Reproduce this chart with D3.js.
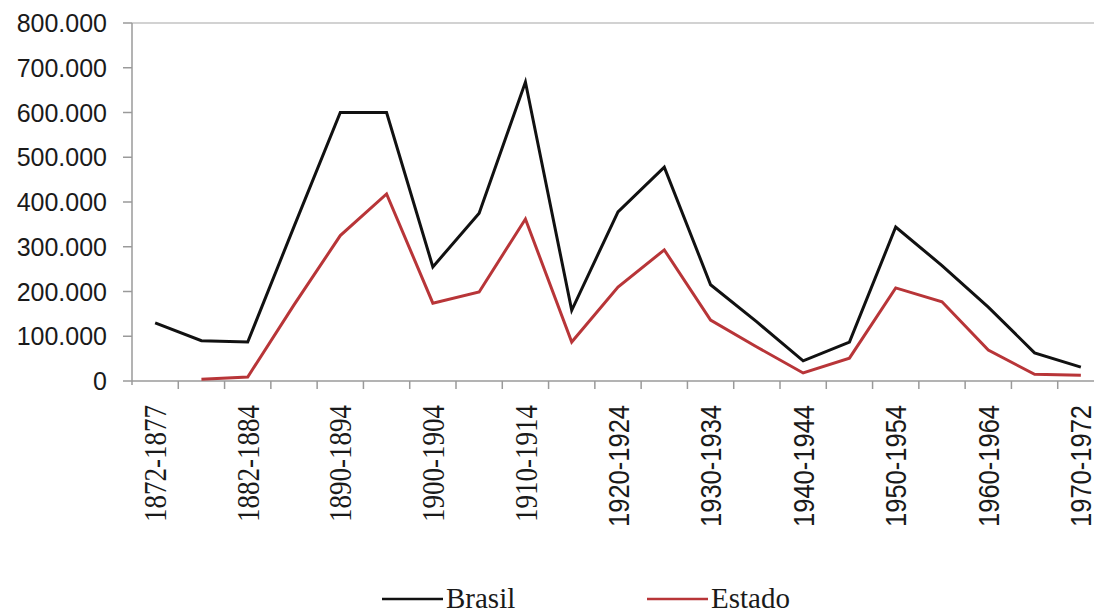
<!DOCTYPE html>
<html>
<head>
<meta charset="utf-8">
<script src="https://cdn.jsdelivr.net/npm/d3@7"></script>
<style>
  body { margin: 0; background: #fff; }
  svg { display: block; }
</style>
</head>
<body>
<div id="chart"></div>
<script>
var categories = ["1872-1877", "1878-1881", "1882-1884", "1885-1889", "1890-1894", "1895-1899",
  "1900-1904", "1905-1909", "1910-1914", "1915-1919", "1920-1924", "1925-1929", "1930-1934",
  "1935-1939", "1940-1944", "1945-1949", "1950-1954", "1955-1959", "1960-1964", "1965-1969", "1970-1972"];
var labelledCategories = ["1872-1877", "1882-1884", "1890-1894", "1900-1904", "1910-1914",
  "1920-1924", "1930-1934", "1940-1944", "1950-1954", "1960-1964", "1970-1972"];
var brasil = [130000, 90000, 87000, 345000, 600000, 600000, 255000, 375000, 668000, 158000, 378000,
  478000, 215000, 132000, 45000, 87000, 344000, 258000, 165000, 63000, 31000];
var estado = [null, 4000, 9000, 170000, 325000, 418000, 174000, 199000, 362000, 87000, 210000,
  293000, 136000, 76000, 18000, 51000, 208000, 177000, 69000, 15000, 13000];
var yTicks = [0, 100000, 200000, 300000, 400000, 500000, 600000, 700000, 800000];
var seriesNames = ["Brasil", "Estado"];

var width = 1094;
var height = 613;
var plotLeft = 132, plotTop = 23, plotBottom = 381;
var colors = { Brasil: "#111111", Estado: "#b83538" };
var serifFont = "'Liberation Serif', 'Times New Roman', serif";
var sansFont = "'Liberation Sans', Arial, sans-serif";

var ptBR = d3.formatLocale({ decimal: ",", thousands: ".", grouping: [3], currency: ["R$", ""] });
var fmt = ptBR.format(",d");

var svg = d3.select("#chart").append("svg")
  .attr("width", width)
  .attr("height", height);

/* Scales */
var x = d3.scaleBand().domain(categories).range([plotLeft, 1104]).padding(0);
var y = d3.scaleLinear().domain([0, 800000]).range([plotBottom, plotTop]);
var cx = (d) => x(d) + x.bandwidth() / 2;

/* Plot border top */
svg.append("line")
  .attr("x1", plotLeft).attr("x2", width)
  .attr("y1", y(800000)).attr("y2", y(800000))
  .style("stroke", "#d2d2d2").style("stroke-width", 2);

/* Y axis */
var yAxis = svg.append("g");
yAxis.append("line")
  .attr("x1", plotLeft).attr("x2", plotLeft)
  .attr("y1", y(800000)).attr("y2", plotBottom + 4)
  .style("stroke", "#9a9a9a").style("stroke-width", 1.5);
yAxis.selectAll(".ytick")
  .data(yTicks)
  .enter()
  .append("line")
  .attr("x1", plotLeft - 9).attr("x2", plotLeft)
  .attr("y1", (d) => y(d)).attr("y2", (d) => y(d))
  .style("stroke", "#9a9a9a").style("stroke-width", 1.5);
yAxis.selectAll(".ylabel")
  .data(yTicks)
  .enter()
  .append("text")
  .attr("x", 107)
  .attr("y", (d) => y(d))
  .attr("dy", "0.36em")
  .attr("text-anchor", "end")
  .style("font-family", sansFont)
  .style("font-size", "25px")
  .style("fill", "#1a1a1a")
  .text((d) => fmt(d));

/* X axis */
var xAxis = svg.append("g");
xAxis.append("line")
  .attr("x1", plotLeft).attr("x2", width)
  .attr("y1", plotBottom).attr("y2", plotBottom)
  .style("stroke", "#9a9a9a").style("stroke-width", 1.5);
xAxis.selectAll(".xtick")
  .data(categories.slice(1))
  .enter()
  .append("line")
  .attr("x1", (d) => x(d)).attr("x2", (d) => x(d))
  .attr("y1", plotBottom).attr("y2", plotBottom + 8)
  .style("stroke", "#9a9a9a").style("stroke-width", 1.5);
xAxis.selectAll(".xlabel")
  .data(labelledCategories)
  .enter()
  .append("text")
  .attr("transform", (d) => `translate(${cx(d)}, 405) rotate(-90) scale(1, 1.15)`)
  .attr("dy", "0.36em")
  .attr("text-anchor", "end")
  .style("font-family", (d) => categories.indexOf(d) < 10 ? serifFont : sansFont)
  .style("font-size", (d) => categories.indexOf(d) < 10 ? "27px" : "25.5px")
  .style("fill", "#1a1a1a")
  .text((d) => d);

/* Lines */
var line = d3.line()
  .defined((d) => d.v != null)
  .x((d) => cx(d.c))
  .y((d) => y(d.v));

var series = [
  { name: "Brasil", values: categories.map((c, i) => ({ c: c, v: brasil[i] })) },
  { name: "Estado", values: categories.map((c, i) => ({ c: c, v: estado[i] })) },
];

svg.append("g").selectAll("path")
  .data(series.slice().reverse())
  .enter()
  .append("path")
  .attr("d", (d) => line(d.values))
  .style("fill", "none")
  .style("stroke", (d) => colors[d.name])
  .style("stroke-width", 3)
  .style("stroke-linejoin", "miter");

/* Legend */
var legendX = { Brasil: 382, Estado: 647 };
var legend = svg.append("g").selectAll("g")
  .data(seriesNames)
  .enter()
  .append("g")
  .attr("transform", (d) => `translate(${legendX[d]}, 599)`);
legend.append("line")
  .attr("x1", 0).attr("x2", 61)
  .style("stroke", (d) => colors[d])
  .style("stroke-width", 2.5);
legend.append("text")
  .attr("x", 64)
  .attr("y", 9)
  .style("font-family", serifFont)
  .style("font-size", "29px")
  .style("fill", "#1a1a1a")
  .text((d) => d);
</script>
</body>
</html>
